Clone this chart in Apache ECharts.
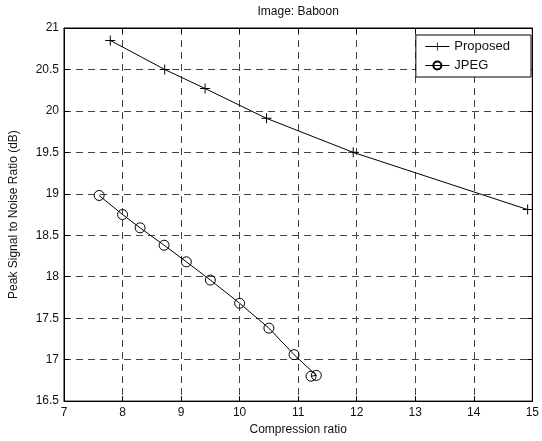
<!DOCTYPE html>
<html>
<head>
<meta charset="utf-8">
<script src="https://cdn.jsdelivr.net/npm/echarts@6/dist/echarts.min.js"></script>
<style>
  html, body { margin: 0; padding: 0; background: #fff; }
  #chart { width: 542px; height: 441px; }
</style>
</head>
<body>
<div id="chart"></div>
<script>
// values
const proposedX = [7.79, 8.72, 9.41, 10.46, 11.94, 14.92];
const proposedY = [20.85, 20.5, 20.27, 19.91, 19.5, 18.81];
const jpegX = [7.6, 8.0, 8.3, 8.71, 9.09, 9.5, 10.0, 10.5, 10.93, 11.31, 11.22];
const jpegY = [18.98, 18.75, 18.59, 18.38, 18.18, 17.96, 17.68, 17.38, 17.06, 16.81, 16.8];

const seriesNames = ['Proposed', 'JPEG'];
const titleText = 'Image: Baboon';
const xName = 'Compression ratio';
const yName = 'Peak Signal to Noise Ratio (dB)';

const font = 'Liberation Sans, Arial, sans-serif';
const plus = 'path://M4.5,0H5.5V4.5H10V5.5H5.5V10H4.5V5.5H0V4.5H4.5Z';

const zip = (xs, ys) => xs.map((x, i) => [x, ys[i]]);

const chart = echarts.init(document.getElementById('chart'));

const gridDash = { show: true, lineStyle: { color: '#444', type: [7, 5], width: 1 } };
const axisText = { color: '#111', fontFamily: font, fontSize: 12 };

chart.setOption({
  animation: false,
  backgroundColor: '#fff',
  grid: { left: 62, right: 9, top: 28, bottom: 38, show: true, borderColor: '#000', borderWidth: 1 },
  legend: {
    right: 11, top: 35, orient: 'vertical',
    backgroundColor: '#fff', borderColor: '#000', borderWidth: 1,
    padding: [5, 21, 5, 9], itemGap: 6, itemWidth: 24, itemHeight: 10,
    lineStyle: { width: 1 },
    textStyle: { color: '#111', fontFamily: font, fontSize: 13 },
    data: seriesNames
  },
  xAxis: [{
    type: 'value', min: 7, max: 15, interval: 1,
    name: xName, nameLocation: 'middle', nameGap: 20,
    nameTextStyle: axisText,
    axisLine: { lineStyle: { color: '#000' } },
    axisTick: { inside: true, length: 5, lineStyle: { color: '#000' } },
    axisLabel: Object.assign({ margin: 6 }, axisText),
    splitLine: gridDash
  }, {
    type: 'value', position: 'top', min: 7, max: 15, interval: 1,
    name: titleText, nameLocation: 'middle', nameGap: 10,
    nameTextStyle: axisText,
    axisLine: { lineStyle: { color: '#000' } },
    axisTick: { inside: true, length: 5, lineStyle: { color: '#000' } },
    axisLabel: { show: false },
    splitLine: { show: false }
  }],
  yAxis: [{
    type: 'value', min: 16.5, max: 21, interval: 0.5,
    name: yName, nameLocation: 'middle', nameGap: 44,
    nameTextStyle: axisText,
    axisLine: { show: true, lineStyle: { color: '#000' } },
    axisTick: { show: true, inside: true, length: 5, lineStyle: { color: '#000' } },
    axisLabel: Object.assign({ margin: 5 }, axisText),
    splitLine: gridDash
  }, {
    type: 'value', position: 'right', min: 16.5, max: 21, interval: 0.5,
    axisLine: { show: true, lineStyle: { color: '#000' } },
    axisTick: { show: true, inside: true, length: 5, lineStyle: { color: '#000' } },
    axisLabel: { show: false },
    splitLine: { show: false }
  }],
  series: [{
    name: seriesNames[0], type: 'line',
    data: zip(proposedX, proposedY),
    symbol: plus, symbolSize: 10,
    lineStyle: { color: '#000', width: 1 },
    itemStyle: { color: '#000' }
  }, {
    name: seriesNames[1], type: 'line',
    data: zip(jpegX, jpegY),
    symbol: 'circle', symbolSize: 10,
    lineStyle: { color: '#000', width: 1 },
    itemStyle: { color: 'rgba(0,0,0,0)', borderColor: '#000', borderWidth: 1 }
  }]
});
</script>
</body>
</html>
